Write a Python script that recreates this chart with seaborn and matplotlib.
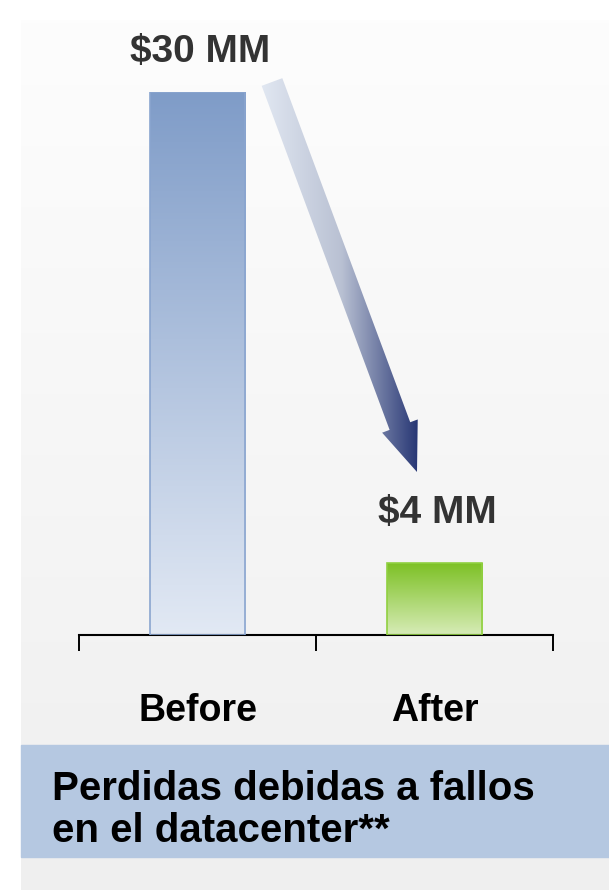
import numpy as np
import pandas as pd
import seaborn as sns
import matplotlib.pyplot as plt
from matplotlib.patches import Rectangle, FancyArrow
from matplotlib.colors import LinearSegmentedColormap

# datos
categorias = ['Before', 'After']
perdidas = [30, 4]
etiquetas = ['$30 MM', '$4 MM']
titulo = 'Perdidas debidas a fallos\nen el datacenter**'

df = pd.DataFrame({'cat': categorias, 'val': perdidas})

sns.set_style('white')
plt.rcParams['font.family'] = ['Liberation Sans', 'DejaVu Sans']

W, H = 609, 890
fig = plt.figure(figsize=(W / 100, H / 100), dpi=100)
fig.patch.set_facecolor('white')

# fondo en coordenadas de pixel
bg = fig.add_axes([0, 0, 1, 1], zorder=0)
bg.set_xlim(0, W)
bg.set_ylim(H, 0)
bg.axis('off')
fondo = np.linspace(0, 1, 256).reshape(-1, 1)
cmap_fondo = LinearSegmentedColormap.from_list('f', ['#fdfdfd', '#efefef'])
bg.imshow(fondo, cmap=cmap_fondo, extent=[21, W, H, 20], aspect='auto', zorder=0)
bg.add_patch(Rectangle((21, 745), W - 21, 112, color='#b5c8e1', zorder=1))
# la linea base de la ultima linea queda en y=842
bg.text(52, 842, titulo, fontsize=29, fontweight='bold', color='black',
        va='baseline', ha='left', linespacing=1.15, zorder=2)

# flecha con degradado
flecha = FancyArrow(272, 82, 145 * (1 - 49 / 416), 390 * (1 - 49 / 416), width=22,
                    head_width=38, head_length=49, length_includes_head=False,
                    color='none', zorder=2)
bg.add_patch(flecha)
grad = np.linspace(0, 1, 256).reshape(1, -1)
cmap_flecha = LinearSegmentedColormap.from_list('a', ['#e3e9f3', '#b9c1d3', '#1a2a6c'])
img = bg.imshow(grad, cmap=cmap_flecha, extent=[258, 425, 480, 70], aspect='auto', zorder=2)
img.set_clip_path(flecha)

# grafico de barras
ax = fig.add_axes([79 / W, 1 - 635 / H, 474 / W, 543 / H], zorder=1)
ax.patch.set_alpha(0)
sns.barplot(data=df, x='cat', y='val', ax=ax, width=0.405, color='#7f9cc8')

colores = [('#7f9cc8', '#e2e9f4', '#8aa5cf'), ('#7cc023', '#d7ecb7', '#90d040')]
for p, (c_top, c_bot, c_edge) in zip(ax.patches, colores):
    x0, y0 = p.get_x(), p.get_y()
    w, h = p.get_width(), p.get_height()
    cm = LinearSegmentedColormap.from_list('b', [c_top, c_bot])
    im = ax.imshow(np.linspace(0, 1, 256).reshape(-1, 1), cmap=cm,
                   extent=[x0, x0 + w, y0, y0 + h], aspect='auto', zorder=2)
    im.set_clip_path(p)
    p.set_facecolor('none')
    p.set_edgecolor(c_edge)
    p.set_linewidth(1.2)
    p.set_zorder(3)
ax.set_xlim(-0.5, 1.5)
ax.set_ylim(0, 30)

# etiquetas de valor
label_pad = [29, 36]
for i, (v, t) in enumerate(zip(perdidas, etiquetas)):
    ax.annotate(t, xy=(i, v), xytext=(2, label_pad[i]), textcoords='offset points',
                ha='center', va='center', fontsize=28, fontweight='bold',
                color='#333333', annotation_clip=False)

# ejes
sns.despine(ax=ax, left=True)
ax.spines['bottom'].set_linewidth(1.5)
ax.spines['bottom'].set_color('black')
ax.set_yticks([])
ax.set_xlabel('')
ax.set_ylabel('')
ax.set_xticks([0, 1])
ax.set_xticklabels(categorias, fontsize=27, fontweight='bold', color='black')
ax.set_xticks([-0.5, 0.5, 1.5], minor=True)
ax.tick_params(axis='x', which='major', length=0, pad=42)
ax.tick_params(axis='x', which='minor', length=11.5, width=1.4, direction='out',
               color='black', bottom=True)

fig.savefig('out.png', dpi=100)
